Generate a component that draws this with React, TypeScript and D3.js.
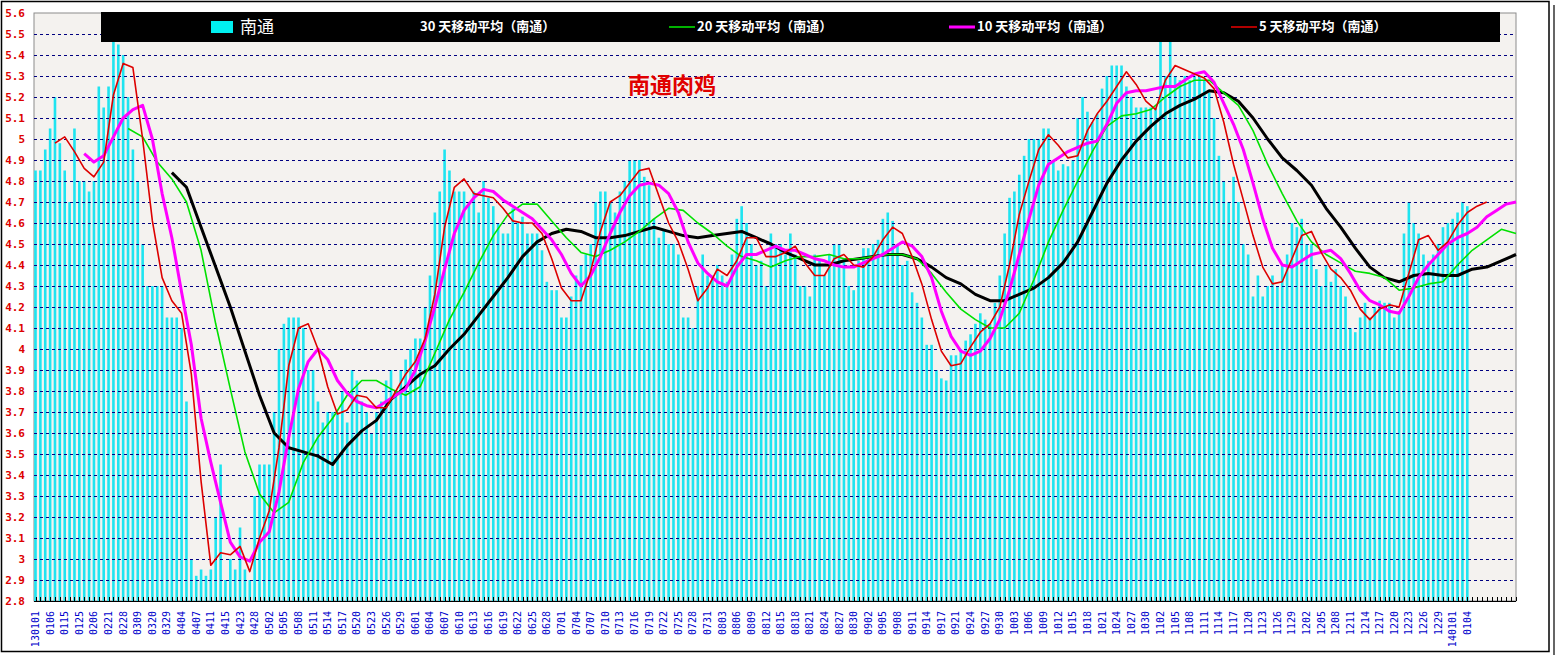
import * as d3 from "d3";

// x-axis labels, one every 3 trading days
const dateLabels = [
  "130101", "0106", "0115", "0125", "0206", "0221", "0228", "0309", "0320", "0329",
  "0404", "0407", "0411", "0415", "0423", "0428", "0502", "0505", "0508", "0511",
  "0514", "0517", "0520", "0523", "0526", "0529", "0601", "0604", "0607", "0610",
  "0613", "0616", "0619", "0622", "0625", "0628", "0701", "0704", "0707", "0710",
  "0713", "0716", "0719", "0722", "0725", "0728", "0731", "0803", "0806", "0809",
  "0812", "0815", "0818", "0821", "0824", "0827", "0830", "0902", "0905", "0908",
  "0911", "0914", "0917", "0921", "0924", "0927", "0930", "1003", "1006", "1009",
  "1012", "1015", "1018", "1021", "1024", "1027", "1030", "1102", "1105", "1108",
  "1111", "1114", "1117", "1120", "1123", "1126", "1129", "1202", "1205", "1208",
  "1211", "1214", "1217", "1220", "1223", "1226", "1229", "140101", "0104",
];

const yTicks = [
  2.8, 2.9, 3.0, 3.1, 3.2, 3.3, 3.4, 3.5, 3.6, 3.7, 3.8, 3.9, 4.0, 4.1, 4.2,
  4.3, 4.4, 4.5, 4.6, 4.7, 4.8, 4.9, 5.0, 5.1, 5.2, 5.3, 5.4, 5.5, 5.6,
];

// daily price (南通), one per slot
const dailyPrice = [
  4.85, 4.85, 4.95, 5.05, 5.20, 4.98, 4.85, 4.70, 5.05, 4.80,
  4.80, 4.75, 4.80, 5.25, 5.15, 5.25, 5.47, 5.45, 5.40, 5.20,
  4.95, 4.80, 4.50, 4.30, 4.30, 4.30, 4.30, 4.15, 4.15, 4.15,
  4.10, 3.75, 3.00, 2.92, 2.95, 2.92, 2.95, 3.20, 3.45, 2.90,
  3.00, 2.95, 3.15, 2.95, 2.90, 3.30, 3.45, 3.45, 3.45, 3.70,
  4.00, 4.12, 4.15, 4.15, 4.15, 4.10, 3.90, 3.90, 3.75, 3.65,
  3.70, 3.70, 3.70, 3.80, 3.65, 3.90, 3.85, 3.75, 3.70, 3.60,
  3.70, 3.75, 3.85, 3.90, 3.80, 3.90, 3.95, 4.00, 4.05, 4.05,
  4.20, 4.35, 4.65, 4.75, 4.95, 4.85, 4.75, 4.75, 4.75, 4.70,
  4.75, 4.65, 4.80, 4.72, 4.68, 4.60, 4.55, 4.55, 4.67, 4.60,
  4.63, 4.55, 4.55, 4.55, 4.47, 4.32, 4.28, 4.28, 4.15, 4.15,
  4.25, 4.35, 4.40, 4.45, 4.50, 4.70, 4.75, 4.75, 4.70, 4.65,
  4.75, 4.80, 4.90, 4.90, 4.90, 4.82, 4.78, 4.62, 4.53, 4.57,
  4.50, 4.50, 4.45, 4.15, 4.15, 4.10, 4.30, 4.45, 4.35, 4.35,
  4.40, 4.35, 4.32, 4.45, 4.62, 4.68, 4.60, 4.50, 4.40, 4.42,
  4.30, 4.55, 4.50, 4.50, 4.45, 4.55, 4.45, 4.30, 4.30, 4.25,
  4.45, 4.42, 4.35, 4.45, 4.50, 4.50, 4.42, 4.30, 4.28, 4.42,
  4.48, 4.48, 4.50, 4.52, 4.62, 4.65, 4.61, 4.50, 4.40, 4.42,
  4.27, 4.22, 4.15, 4.02, 4.02, 3.90, 3.86, 3.85, 3.97, 3.97,
  4.00, 4.04, 4.07, 4.12, 4.17, 4.14, 4.12, 4.22, 4.35, 4.55,
  4.72, 4.75, 4.83, 4.92, 5.00, 5.00, 5.00, 5.05, 5.05, 4.90,
  4.85, 4.88, 4.87, 4.90, 5.10, 5.20, 5.13, 5.08, 5.12, 5.24,
  5.30, 5.35, 5.35, 5.35, 5.25, 5.20, 5.15, 5.15, 5.15, 5.15,
  5.15, 5.47, 5.30, 5.47, 5.30, 5.28, 5.30, 5.28, 5.30, 5.30,
  5.28, 5.22, 5.10, 4.92, 4.80, 4.70, 4.82, 4.70, 4.50, 4.45,
  4.25, 4.35, 4.25, 4.30, 4.35, 4.30, 4.40, 4.45, 4.60, 4.58,
  4.62, 4.50, 4.50, 4.38, 4.30, 4.40, 4.32, 4.38, 4.30, 4.25,
  4.10, 4.08, 4.15, 4.22, 4.15, 4.20, 4.23, 4.22, 4.22, 4.15,
  4.18, 4.55, 4.70, 4.60, 4.55, 4.45, 4.42, 4.45, 4.50, 4.58,
  4.60, 4.62, 4.65, 4.70, 4.68,
];

// moving averages, read every 2nd / 3rd slot
const ma5 = [
  4.98, 5.01, 4.94, 4.86, 4.82, 4.89, 5.21, 5.36, 5.34, 5.00,
  4.61, 4.34, 4.23, 4.17, 3.88, 3.37, 2.97, 3.03, 3.02, 3.06,
  2.94, 3.10, 3.23, 3.53, 3.92, 4.10, 4.12, 4.00, 3.82, 3.69,
  3.71, 3.78, 3.77, 3.72, 3.72, 3.80, 3.88, 3.94, 4.05, 4.26,
  4.58, 4.77, 4.81, 4.74, 4.73, 4.72, 4.67, 4.61, 4.60, 4.60,
  4.55, 4.43, 4.29, 4.23, 4.23, 4.37, 4.56, 4.70, 4.73, 4.79,
  4.85, 4.86, 4.73, 4.60, 4.51, 4.38, 4.23, 4.29, 4.38, 4.35,
  4.42, 4.53, 4.53, 4.44, 4.44, 4.46, 4.49, 4.41, 4.35, 4.35,
  4.43, 4.45, 4.40, 4.39, 4.44, 4.52, 4.58, 4.55, 4.44, 4.31,
  4.14, 3.99, 3.92, 3.93, 4.01, 4.08, 4.12, 4.20, 4.40, 4.64,
  4.80, 4.95, 5.02, 4.97, 4.91, 4.92, 5.04, 5.12, 5.18, 5.25,
  5.32, 5.26, 5.18, 5.14, 5.28, 5.35, 5.33, 5.31, 5.29, 5.24,
  5.08, 4.88, 4.71, 4.54, 4.39, 4.31, 4.32, 4.43, 4.54, 4.56,
  4.46, 4.38, 4.34, 4.28, 4.19, 4.14, 4.19, 4.21, 4.20, 4.36,
  4.52, 4.54, 4.47, 4.51, 4.59, 4.65, 4.68, 4.70,
];

const ma10 = [
  4.93, 4.89, 4.92, 5.01, 5.10, 5.14, 5.16, 5.00, 4.74, 4.53,
  4.27, 4.02, 3.67, 3.46, 3.27, 3.08, 3.01, 2.99, 3.08, 3.13,
  3.32, 3.58, 3.81, 3.94, 4.00, 3.95, 3.85, 3.79, 3.75, 3.73,
  3.72, 3.75, 3.78, 3.81, 3.90, 4.04, 4.20, 4.38, 4.55, 4.66,
  4.72, 4.76, 4.75, 4.71, 4.68, 4.65, 4.62, 4.57, 4.52, 4.45,
  4.36, 4.30, 4.35, 4.44, 4.55, 4.65, 4.73, 4.78, 4.79, 4.78,
  4.74, 4.65, 4.51, 4.41, 4.36, 4.32, 4.30, 4.39, 4.45, 4.45,
  4.47, 4.49, 4.47, 4.47, 4.45, 4.43, 4.42, 4.40, 4.39, 4.39,
  4.41, 4.43, 4.45, 4.48, 4.51, 4.49, 4.44, 4.34, 4.18, 4.06,
  3.99, 3.97, 3.99, 4.05, 4.14, 4.28, 4.45, 4.62, 4.78, 4.88,
  4.91, 4.94, 4.96, 4.98, 4.99, 5.07, 5.17, 5.22, 5.23, 5.23,
  5.24, 5.25, 5.25, 5.28, 5.31, 5.32, 5.27, 5.17, 5.07, 4.95,
  4.79, 4.62, 4.48, 4.40, 4.39, 4.42, 4.45, 4.46, 4.47, 4.43,
  4.36, 4.28, 4.23, 4.21, 4.18, 4.17, 4.25, 4.34, 4.40, 4.45,
  4.50, 4.53, 4.55, 4.58, 4.63, 4.66, 4.69, 4.70,
];

const ma20 = [
  5.05, 5.01, 4.89, 4.81, 4.70, 4.47, 4.12, 3.81, 3.51, 3.31,
  3.22, 3.27, 3.46, 3.58, 3.67, 3.78, 3.85, 3.85, 3.81, 3.78,
  3.82, 3.98, 4.14, 4.27, 4.41, 4.54, 4.64, 4.69, 4.69, 4.61,
  4.53, 4.46, 4.44, 4.47, 4.51, 4.56, 4.62, 4.67, 4.66, 4.60,
  4.55, 4.49, 4.44, 4.42, 4.39, 4.42, 4.44, 4.44, 4.45, 4.43,
  4.43, 4.44, 4.45, 4.45, 4.43, 4.36, 4.27, 4.19, 4.14, 4.10,
  4.10, 4.17, 4.33, 4.51, 4.66, 4.80, 4.94, 5.06, 5.11, 5.12,
  5.14, 5.20, 5.25, 5.28, 5.28, 5.22, 5.16, 5.04, 4.88, 4.74,
  4.61, 4.51, 4.45, 4.41, 4.37, 4.36, 4.34, 4.28, 4.29, 4.31,
  4.32, 4.40, 4.47, 4.52, 4.57, 4.55,
];

const ma30 = [
  4.84, 4.77, 4.58, 4.39, 4.20, 3.99, 3.78, 3.60, 3.53, 3.51,
  3.49, 3.45, 3.54, 3.61, 3.66, 3.76, 3.82, 3.88, 3.92, 4.00,
  4.07, 4.16, 4.25, 4.34, 4.44, 4.51, 4.55, 4.57, 4.56, 4.53,
  4.53, 4.54, 4.56, 4.58, 4.56, 4.54, 4.53, 4.54, 4.55, 4.56,
  4.53, 4.50, 4.46, 4.43, 4.40, 4.40, 4.42, 4.43, 4.44, 4.45,
  4.45, 4.43, 4.39, 4.34, 4.31, 4.26, 4.23, 4.23, 4.26, 4.29,
  4.34, 4.41, 4.51, 4.65, 4.79, 4.90, 4.99, 5.06, 5.12, 5.16,
  5.19, 5.23, 5.22, 5.18, 5.10, 5.00, 4.91, 4.85, 4.78, 4.67,
  4.58, 4.48, 4.39, 4.34, 4.32, 4.35, 4.36, 4.35, 4.35, 4.38,
  4.39, 4.42, 4.45,
];

const slotCount = 305;
const plot = { left: 34, right: 1516, top: 13, bottom: 601 };

const movingAverages = [
  { name: "30 天移动平均（南通）", values: ma30, start: 28, step: 3, color: "#000000", width: 3, legendX: 392 },
  { name: "20 天移动平均（南通）", values: ma20, start: 19, step: 3, color: "#00e000", width: 1.6, legendX: 669 },
  { name: "10 天移动平均（南通）", values: ma10, start: 10, step: 2, color: "#ff00ff", width: 3, legendX: 949 },
  { name: "5 天移动平均（南通）", values: ma5, start: 4, step: 2, color: "#dd0000", width: 1.6, legendX: 1231 },
];

export default function App() {
  const x = d3.scaleLinear().domain([0, slotCount - 1]).range([35.5, plot.right]);
  const y = d3.scaleLinear().domain([2.8, 5.6]).range([plot.bottom, plot.top]);

  const pathFor = (s: (typeof movingAverages)[number]) =>
    d3
      .line<number>()
      .x((_, i) => x(s.start + i * s.step))
      .y((d) => y(d))(s.values) ?? "";

  const fmt = (v: number) => String(+v.toFixed(1));

  return (
    <svg
      width={1556}
      height={668}
      style={{ position: "absolute", left: 0, top: 0, background: "#fff" }}
    >
      {/* outer frame */}
      <rect x={1.5} y={1.5} width={1547.5} height={650} fill="#fff" stroke="#000" strokeWidth={1.5} />
      <line x1={1554} x2={1554} y1={5} y2={655} stroke="#333" strokeWidth={1.5} />

      {/* plot background */}
      <rect
        x={plot.left}
        y={plot.top}
        width={plot.right - plot.left}
        height={plot.bottom - plot.top}
        fill="#f4f2ef"
        stroke="#8c8c8c"
      />

      {/* bars */}
      <g fill="#1fe4f0">
        {dailyPrice.map((v, i) => (
          <rect key={i} x={x(i) - 1.3} y={y(v)} width={2.6} height={plot.bottom - y(v)} />
        ))}
      </g>

      {/* grid */}
      <g stroke="#000080" strokeWidth={1} strokeDasharray="3,3">
        {yTicks.slice(1, -1).map((t) => (
          <line key={t} x1={plot.left} x2={plot.right} y1={Math.round(y(t)) + 0.5} y2={Math.round(y(t)) + 0.5} />
        ))}
      </g>

      {/* moving average lines */}
      {movingAverages.map((s) => (
        <path
          key={s.name}
          d={pathFor(s)}
          fill="none"
          stroke={s.color}
          strokeWidth={s.width}
          strokeLinejoin="round"
        />
      ))}

      {/* x axis */}
      <line x1={plot.left} x2={plot.right} y1={plot.bottom + 0.5} y2={plot.bottom + 0.5} stroke="#000" />
      <g stroke="#000">
        {d3.range(slotCount).map((i) => (
          <line key={i} x1={Math.round(x(i)) + 0.5} x2={Math.round(x(i)) + 0.5} y1={plot.bottom} y2={plot.bottom - 4} />
        ))}
      </g>
      <g fill="#0000cc" fontSize={10} fontFamily="'DejaVu Sans Mono', monospace">
        {dateLabels.map((d, k) => (
          <text
            key={k}
            transform={`translate(${x(k * 3)},611) rotate(-90)`}
            textAnchor="end"
            dy="0.35em"
          >
            {d}
          </text>
        ))}
      </g>

      {/* y axis labels */}
      <g fill="#dd0000" fontSize={11} fontWeight="bold" fontFamily="'DejaVu Sans Mono', monospace">
        {yTicks.map((t) => (
          <text key={t} x={25} y={y(t) + 4} textAnchor="end">
            {fmt(t)}
          </text>
        ))}
      </g>

      {/* legend */}
      <rect x={101} y={12} width={1399} height={30} fill="#000" />
      <rect x={211} y={21} width={22} height={12} fill="#00f0f0" />
      <text x={240} y={33} fill="#fff" fontSize={17} fontFamily="'Noto Sans CJK SC', sans-serif">
        南通
      </text>
      {movingAverages.map((s) => (
        <g key={s.name}>
          <line x1={s.legendX} x2={s.legendX + 26} y1={27} y2={27} stroke={s.color} strokeWidth={s.width} />
          <text
            x={s.legendX + 28}
            y={31}
            fill="#fff"
            fontSize={13}
            fontWeight="bold"
            fontFamily="'Noto Sans CJK SC', sans-serif"
          >
            {s.name}
          </text>
        </g>
      ))}

      {/* title */}
      <text
        x={672}
        y={93}
        textAnchor="middle"
        fill="#e00000"
        fontSize={22}
        fontWeight="bold"
        fontFamily="'Noto Sans CJK SC', sans-serif"
      >
        南通肉鸡
      </text>
    </svg>
  );
}
